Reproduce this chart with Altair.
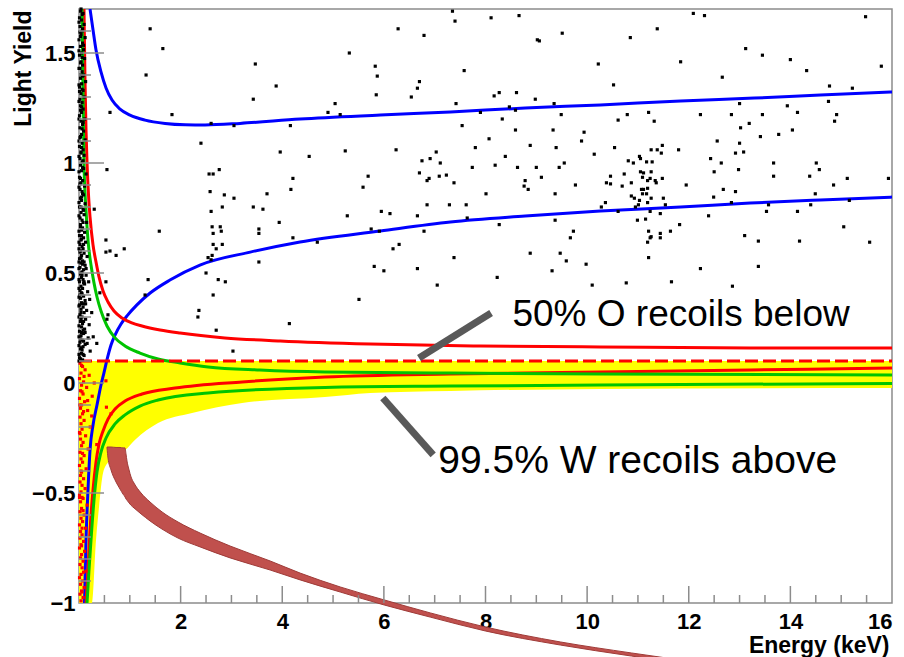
import altair as alt
import pandas as pd

F = "Liberation Sans"

# ---------------- axis tick values ----------------
x_tick_labels = [2, 4, 6, 8, 10, 12, 14, 16]
y_tick_labels = [-1, -0.5, 0, 0.5, 1, 1.5]
x_major_ticks = [2, 4, 6, 8, 10, 12, 14]
x_minor_ticks = [v / 2 for v in range(1, 32) if v % 4 != 0]
y_major_ticks = [-0.5, 0, 0.5, 1, 1.5]
y_minor_ticks = [round(-1 + 0.1 * i, 2) for i in range(1, 27) if i % 5 != 0]

# ---------------- curves ----------------
blue_up_x = [0.217, 0.276, 0.335, 0.433, 0.532, 0.650, 0.807, 1.004, 1.30, 1.694, 2.09, 2.48, 3.17, 4.35, 5.93, 7.31, 8.78, 10.26, 11.84, 13.29, 14.59, 16.0]
blue_up_y = [1.70, 1.605, 1.514, 1.414, 1.341, 1.286, 1.245, 1.218, 1.195, 1.18, 1.174, 1.173, 1.18, 1.20, 1.218, 1.232, 1.25, 1.264, 1.282, 1.295, 1.309, 1.323]

blue_lo_x = [0.108, 0.138, 0.177, 0.217, 0.276, 0.354, 0.433, 0.49, 0.55, 0.63, 0.709, 0.827, 0.945, 1.14, 1.40, 1.79, 2.38, 3.37, 4.35, 5.93, 7.31, 8.78, 10.26, 11.84, 13.21, 14.59, 16.0]
blue_lo_y = [-1.0, -0.714, -0.486, -0.305, -0.191, -0.10, -0.009, 0.045, 0.105, 0.173, 0.218, 0.268, 0.305, 0.355, 0.409, 0.468, 0.536, 0.595, 0.641, 0.691, 0.732, 0.759, 0.782, 0.80, 0.818, 0.832, 0.845]

red_up_x = [0.098, 0.118, 0.138, 0.158, 0.187, 0.217, 0.276, 0.335, 0.394, 0.473, 0.571, 0.689, 0.847, 1.04, 1.24, 1.595, 1.99, 2.87, 3.96, 5.73, 7.90, 10.26, 13.21, 16.0]
red_up_y = [1.70, 1.377, 1.15, 1.0, 0.855, 0.755, 0.627, 0.55, 0.482, 0.418, 0.368, 0.327, 0.295, 0.273, 0.259, 0.241, 0.227, 0.205, 0.191, 0.177, 0.168, 0.164, 0.159, 0.159]

green_up_x = [0.059, 0.079, 0.098, 0.138, 0.177, 0.236, 0.295, 0.354, 0.433, 0.551, 0.709, 0.906, 1.20, 1.556, 1.99, 2.54, 3.56, 4.84, 7.31, 10.26, 16.0]
green_up_y = [1.70, 1.33, 1.0, 0.786, 0.65, 0.536, 0.455, 0.391, 0.327, 0.259, 0.205, 0.168, 0.136, 0.109, 0.091, 0.073, 0.059, 0.05, 0.045, 0.041, 0.036]

red_lo_x = [0.138, 0.177, 0.217, 0.276, 0.335, 0.394, 0.473, 0.571, 0.709, 0.906, 1.24, 1.89, 3.21, 4.84, 7.31, 10.26, 13.21, 16.0]
red_lo_y = [-1.0, -0.85, -0.668, -0.486, -0.359, -0.277, -0.218, -0.164, -0.118, -0.082, -0.05, -0.023, 0.005, 0.027, 0.041, 0.05, 0.059, 0.068]

green_lo_x = [0.158, 0.197, 0.236, 0.295, 0.354, 0.433, 0.532, 0.709, 0.906, 1.20, 1.556, 2.54, 4.84, 7.31, 10.26, 16.0]
green_lo_y = [-1.0, -0.85, -0.714, -0.532, -0.405, -0.314, -0.25, -0.186, -0.145, -0.105, -0.077, -0.045, -0.02, -0.014, -0.009, -0.002]

# dashed 50% line and yellow acceptance band
dash_x = [0.0, 16.0]
dash_y = [0.10, 0.10]
band_x = [0.0, 0.256, 0.335, 0.394, 0.473, 0.571, 0.709, 0.906, 1.10, 1.556, 2.225, 3.21, 4.84, 5.73, 7.31, 10.26, 16.0]
band_lo = [-1.0, -1.0, -0.714, -0.564, -0.409, -0.36, -0.33, -0.305, -0.259, -0.182, -0.136, -0.091, -0.064, -0.045, -0.036, -0.027, -0.023]
band_hi = 0.10

# curved arrow (outer / inner edge)
arrow_x = [0.551, 0.571, 0.630, 0.729, 0.807, 0.866, 0.906, 0.925, 0.945, 0.985, 1.024, 1.083, 1.221, 1.398, 1.634, 1.950, 2.383, 2.974, 3.762, 4.352, 5.140, 6.006, 6.912, 7.995, 9.472, 10.870, 11.835]
arrow_outer = [-0.291, -0.291, -0.291, -0.293, -0.293, -0.295, -0.295, -0.323, -0.355, -0.395, -0.427, -0.455, -0.50, -0.541, -0.586, -0.632, -0.682, -0.741, -0.809, -0.864, -0.927, -0.986, -1.045, -1.109, -1.177, -1.227, -1.259]
arrow_inner = [-0.295, -0.341, -0.395, -0.45, -0.482, -0.505, -0.518, -0.527, -0.533, -0.545, -0.556, -0.568, -0.595, -0.627, -0.664, -0.705, -0.745, -0.795, -0.85, -0.895, -0.95, -1.009, -1.064, -1.127, -1.191, -1.241, -1.273]

# annotation pointers and texts
ptr_x1 = [6.69, 5.98]
ptr_y1 = [0.114, -0.068]
ptr_x2 = [8.11, 6.97]
ptr_y2 = [0.318, -0.327]
note_text = ["50% O recoils below", "99.5% W recoils above"]
note_x = [8.53, 7.07]
note_y = [0.259, -0.409]
note_size = [37, 39]

# ---------------- events ----------------
column_black = [
    (0.03, 1.69), (0.08, 1.68), (0.01, 1.66), (0.05, 1.65), (0.10, 1.63), (0.02, 1.62), (0.06, 1.60), (0.04, 1.585),
    (0.12, 1.57), (0.00, 1.56), (0.07, 1.545), (0.03, 1.53), (0.09, 1.515), (0.05, 1.50), (0.01, 1.49), (0.11, 1.475),
    (0.04, 1.46), (0.07, 1.445), (0.02, 1.43), (0.06, 1.415), (0.09, 1.40), (0.03, 1.385), (0.13, 1.37), (0.05, 1.36),
    (0.01, 1.345), (0.08, 1.33), (0.04, 1.315), (0.10, 1.30), (0.02, 1.29), (0.06, 1.275), (0.03, 1.26), (0.08, 1.245),
    (0.05, 1.23), (0.01, 1.215), (0.11, 1.20), (0.04, 1.19), (0.07, 1.175), (0.02, 1.16), (0.09, 1.145), (0.05, 1.13),
    (0.03, 1.12), (0.12, 1.105), (0.06, 1.09), (0.01, 1.075), (0.08, 1.06), (0.04, 1.05), (0.10, 1.035), (0.02, 1.02),
    (0.06, 1.005), (0.03, 0.99), (0.09, 0.975), (0.05, 0.965), (0.14, 0.95), (0.01, 0.935), (0.07, 0.92), (0.04, 0.91),
    (0.11, 0.895), (0.02, 0.88), (0.06, 0.87), (0.09, 0.855), (0.03, 0.84), (0.05, 0.83), (0.12, 0.815), (0.01, 0.80),
    (0.08, 0.79), (0.04, 0.775), (0.10, 0.765), (0.02, 0.75), (0.06, 0.74), (0.15, 0.73), (0.03, 0.72), (0.07, 0.705),
    (0.05, 0.695), (0.11, 0.685), (0.01, 0.67), (0.09, 0.66), (0.04, 0.65), (0.13, 0.64), (0.02, 0.63), (0.06, 0.62),
    (0.08, 0.61), (0.03, 0.60), (0.10, 0.59), (0.05, 0.58), (0.16, 0.575), (0.01, 0.565), (0.07, 0.555), (0.04, 0.545),
    (0.12, 0.535), (0.02, 0.525), (0.09, 0.515), (0.06, 0.505), (0.03, 0.495), (0.14, 0.49), (0.05, 0.48), (0.08, 0.47),
    (0.01, 0.46), (0.11, 0.45), (0.04, 0.44), (0.07, 0.43), (0.02, 0.42), (0.17, 0.415), (0.06, 0.405), (0.09, 0.395),
    (0.03, 0.385), (0.12, 0.375), (0.05, 0.365), (0.01, 0.355), (0.08, 0.345), (0.04, 0.335), (0.15, 0.33), (0.10, 0.32),
    (0.02, 0.31), (0.06, 0.30), (0.13, 0.29), (0.03, 0.28), (0.07, 0.27), (0.20, 0.265), (0.05, 0.255), (0.11, 0.245),
    (0.01, 0.235), (0.09, 0.225), (0.04, 0.215), (0.18, 0.205), (0.06, 0.195), (0.02, 0.185), (0.12, 0.175), (0.08, 0.165),
    (0.03, 0.155), (0.22, 0.145), (0.05, 0.135), (0.10, 0.125), (0.01, 0.115), (0.07, 0.105),
    (0.06, 1.675), (0.02, 1.595), (0.09, 1.535), (0.03, 1.455), (0.07, 1.395), (0.01, 1.325), (0.05, 1.255), (0.08, 1.185),
    (0.02, 1.115), (0.04, 1.045), (0.07, 0.98), (0.02, 0.905), (0.05, 0.845), (0.09, 0.785), (0.03, 0.71), (0.05, 0.655),
    (0.02, 0.595), (0.07, 0.54), (0.04, 0.50), (0.09, 0.455), (0.02, 0.40), (0.06, 0.36), (0.04, 0.29), (0.08, 0.24),
    (0.03, 0.20), (0.06, 0.15), (0.03, 0.11), (0.25, 0.32), (0.19, 0.46), (0.28, 0.21),
    (0.04, 1.70), (0.00, 1.64), (0.07, 1.61), (0.03, 1.575), (0.00, 1.51), (0.06, 1.48), (0.00, 1.43), (0.04, 1.40),
    (0.00, 1.355), (0.06, 1.335), (0.00, 1.28), (0.03, 1.24), (0.00, 1.20), (0.06, 1.155), (0.00, 1.10), (0.05, 1.07),
    (0.00, 1.03), (0.08, 1.01), (0.00, 0.96), (0.03, 0.93), (0.00, 0.89), (0.07, 0.86), (0.00, 0.82), (0.04, 0.80),
    (0.00, 0.76), (0.08, 0.73), (0.00, 0.69), (0.05, 0.67), (0.00, 0.64), (0.09, 0.63), (0.00, 0.61), (0.04, 0.57),
    (0.00, 0.55), (0.10, 0.55), (0.00, 0.52), (0.06, 0.49), (0.00, 0.47), (0.10, 0.46), (0.00, 0.43), (0.05, 0.41),
    (0.00, 0.39), (0.10, 0.36), (0.00, 0.35), (0.04, 0.32), (0.00, 0.30), (0.09, 0.28), (0.00, 0.26), (0.05, 0.23),
    (0.00, 0.21), (0.09, 0.19), (0.00, 0.17), (0.05, 0.16), (0.00, 0.13), (0.08, 0.13), (0.00, 0.10), (0.13, 0.36),
    (0.14, 0.52), (0.12, 0.23), (0.16, 0.18), (0.21, 0.38),
]

scatter_black = [
    (1.40, 1.61), (1.65, 1.52), (1.32, 1.40), (0.61, 1.23), (1.83, 1.22), (2.40, 1.09), (3.47, 1.45), (3.43, 1.29),
    (3.88, 1.35), (2.60, 1.18), (3.05, 1.17), (3.96, 1.05), (4.16, 1.17), (0.55, 0.97), (2.56, 0.95), (2.64, 0.95),
    (2.76, 0.97), (2.58, 0.87), (2.86, 0.855), (3.05, 0.84), (2.60, 0.78), (2.82, 0.80), (3.43, 0.80), (3.62, 0.79),
    (3.70, 0.86), (4.17, 0.88), (4.21, 0.93), (0.30, 0.79), (0.53, 0.65), (0.53, 0.595), (0.61, 0.60), (0.73, 0.58),
    (0.89, 0.61), (1.58, 0.69), (2.62, 0.71), (2.78, 0.71), (2.64, 0.68), (2.80, 0.69), (2.64, 0.63), (2.70, 0.61),
    (2.82, 0.63), (2.54, 0.57), (2.62, 0.58), (2.60, 0.56), (3.94, 0.73), (3.54, 0.70), (3.54, 0.68), (3.54, 0.55),
    (4.21, 0.66), (2.50, 0.50), (2.74, 0.47), (2.88, 0.46), (1.36, 0.47), (1.30, 0.40), (2.64, 0.40), (2.36, 0.33),
    (2.34, 0.30), (2.70, 0.24), (3.03, 0.145), (4.14, 0.27), (0.53, 0.46), (0.57, 0.31), (0.55, 0.29), (0.35, 0.18),
    (5.51, 0.38),
    (7.35, 1.69), (7.40, 1.645), (8.11, 1.66), (8.66, 1.67), (6.28, 1.61), (6.79, 1.58), (9.02, 1.56), (9.06, 1.555),
    (9.51, 1.59), (5.32, 1.50), (5.83, 1.44), (5.87, 1.395), (7.58, 1.42), (6.70, 1.37), (6.66, 1.34), (5.85, 1.31),
    (6.54, 1.30), (8.17, 1.305), (8.27, 1.32), (8.61, 1.32), (8.98, 1.29), (9.35, 1.27), (5.04, 1.27), (4.90, 1.23),
    (5.14, 1.22), (7.42, 1.27), (8.47, 1.255), (8.59, 1.24), (9.49, 1.22), (7.90, 1.23), (8.33, 1.20), (7.54, 1.17),
    (8.59, 1.15), (9.33, 1.15), (9.94, 1.14), (9.89, 1.10), (8.07, 1.11), (7.80, 1.07), (8.88, 1.08), (9.39, 1.07),
    (10.14, 1.04), (4.53, 1.03), (5.24, 1.055), (6.24, 1.06), (7.03, 1.05), (6.91, 1.02), (6.75, 1.01), (7.11, 1.00),
    (8.39, 1.03), (8.19, 0.99), (7.74, 0.98), (8.63, 0.98), (9.00, 0.98), (9.55, 1.00), (9.45, 0.98), (6.70, 0.955),
    (7.09, 0.94), (7.23, 0.945), (6.89, 0.93), (6.85, 0.92), (7.38, 0.91), (5.69, 0.94), (5.59, 0.89), (8.78, 0.92),
    (8.76, 0.895), (8.84, 0.88), (9.10, 0.935), (9.77, 0.90), (9.37, 0.86), (8.01, 0.86), (6.85, 0.81), (7.29, 0.81),
    (7.62, 0.81), (5.28, 0.76), (5.95, 0.78), (6.12, 0.77), (6.66, 0.76), (7.64, 0.75), (9.37, 0.74), (8.27, 0.72),
    (5.75, 0.70), (5.91, 0.69), (6.79, 0.69), (9.73, 0.69), (9.67, 0.66), (4.69, 0.64), (6.30, 0.63), (6.18, 0.61),
    (10.61, 1.195), (10.79, 1.22), (11.21, 1.23), (11.32, 1.19), (12.23, 1.22), (12.84, 1.22), (13.45, 1.22), (13.00, 1.27),
    (14.14, 1.23), (13.94, 1.26), (14.75, 1.28), (14.91, 1.22), (14.87, 1.19), (10.54, 1.07), (13.02, 1.16), (13.19, 1.18),
    (13.41, 1.12), (13.77, 1.13), (14.04, 1.15), (12.56, 1.10), (13.00, 1.09), (12.92, 1.045), (13.08, 1.05), (11.80, 1.06),
    (11.26, 1.06), (11.38, 1.06), (11.46, 1.045), (11.48, 1.08), (11.03, 1.03), (11.05, 1.02), (10.81, 1.01), (10.91, 1.00),
    (11.17, 1.005), (11.28, 1.005), (12.43, 1.02), (12.64, 1.00), (12.98, 0.97), (13.67, 1.00), (14.51, 1.00), (14.57, 0.97),
    (13.67, 0.94), (14.38, 0.94), (15.12, 0.93), (15.93, 0.93), (14.85, 0.90), (14.49, 0.86), (12.50, 0.96), (12.68, 0.88),
    (12.92, 0.87), (12.49, 0.845), (11.95, 0.90), (11.48, 0.93), (10.73, 0.95), (10.46, 0.94), (10.38, 0.91), (10.46, 0.905),
    (10.69, 0.895), (10.87, 0.91), (11.05, 0.96), (11.11, 0.955), (11.09, 0.935), (11.26, 0.96), (11.19, 0.92), (11.24, 0.93),
    (11.34, 0.92), (11.36, 0.91), (11.07, 0.88), (11.11, 0.88), (11.19, 0.885), (11.09, 0.86), (11.17, 0.86), (10.87, 0.85),
    (10.93, 0.84), (11.03, 0.83), (11.26, 0.84), (11.19, 0.82), (11.50, 0.84), (11.54, 0.81), (10.95, 0.80), (11.01, 0.81),
    (10.28, 0.80), (10.36, 0.82), (10.61, 0.78), (11.24, 0.78), (11.44, 0.77), (12.39, 0.76), (12.84, 0.82), (13.53, 0.78),
    (13.57, 0.81), (14.14, 0.78), (14.40, 0.81), (15.16, 0.83), (10.99, 0.74), (11.15, 0.745), (11.82, 0.72), (11.21, 0.69),
    (11.24, 0.66), (11.19, 0.64), (11.26, 0.665), (11.44, 0.68), (11.44, 0.66), (11.64, 0.69), (13.10, 0.67), (13.37, 0.645),
    (14.18, 0.645), (15.05, 0.71), (15.56, 0.64), (9.47, 0.59), (9.59, 0.555), (9.98, 0.54), (11.21, 0.57), (13.37, 0.53),
    (11.66, 0.46), (12.86, 0.44),
    (10.22, 1.45), (10.85, 1.57), (11.38, 1.61), (12.09, 1.68), (12.31, 1.67), (13.12, 1.52), (13.45, 1.49), (14.0, 1.47),
    (14.32, 1.42), (14.77, 1.35), (15.22, 1.34), (15.48, 1.665), (15.79, 1.44), (10.52, 1.355), (11.84, 1.46), (12.66, 1.39),
    (6.66, 0.52), (7.38, 0.57), (8.23, 0.48), (8.88, 0.59), (9.31, 0.51), (10.10, 0.445), (10.77, 0.455), (12.23, 0.52),
    (7.05, 0.445), (6.0, 0.51), (5.81, 0.53), (0.41, 0.41),
]

column_red = [
    (0.02, 0.09), (0.07, 0.075), (0.12, 0.06), (0.04, 0.045), (0.20, 0.035), (0.01, 0.02), (0.09, 0.005), (0.05, -0.01),
    (0.15, -0.02), (0.03, -0.035), (0.08, -0.05), (0.26, -0.06), (0.01, -0.07), (0.11, -0.085), (0.05, -0.10), (0.03, -0.115),
    (0.17, -0.125), (0.07, -0.14), (0.02, -0.155), (0.10, -0.17), (0.04, -0.185), (0.22, -0.20), (0.06, -0.21), (0.01, -0.225),
    (0.13, -0.24), (0.03, -0.255), (0.08, -0.27), (0.05, -0.285), (0.18, -0.30), (0.02, -0.315), (0.10, -0.33), (0.04, -0.345),
    (0.07, -0.36), (0.01, -0.375), (0.14, -0.39), (0.05, -0.405), (0.03, -0.42), (0.09, -0.435), (0.02, -0.45), (0.06, -0.465),
    (0.12, -0.48), (0.04, -0.495), (0.01, -0.51), (0.08, -0.525), (0.03, -0.54), (0.16, -0.555), (0.05, -0.57), (0.02, -0.585),
    (0.10, -0.60), (0.04, -0.615), (0.07, -0.63), (0.01, -0.645), (0.13, -0.66), (0.03, -0.675), (0.06, -0.69), (0.02, -0.705),
    (0.09, -0.72), (0.04, -0.735), (0.01, -0.75), (0.11, -0.765), (0.05, -0.78), (0.03, -0.795), (0.08, -0.81), (0.02, -0.825),
    (0.06, -0.84), (0.14, -0.855), (0.04, -0.87), (0.01, -0.885), (0.07, -0.90), (0.03, -0.915), (0.10, -0.93), (0.05, -0.945),
    (0.02, -0.96), (0.08, -0.975), (0.04, -0.99),
    (0.05, 0.08), (0.10, 0.03), (0.06, -0.04), (0.09, -0.13), (0.02, -0.23), (0.07, -0.32), (0.04, -0.40), (0.06, -0.52),
    (0.08, -0.58), (0.06, -0.66), (0.05, -0.74), (0.09, -0.86), (0.06, -0.95), (0.01, -0.52), (0.02, -0.10),
    (0.53, 0.01), (0.54, -0.11), (0.63, -0.14), (0.35, -0.28), (0.17, -0.08), (0.30, 0.0), (0.25, -0.15),
]

# ---------------- tables ----------------
def curve_df(name, xs_, ys_):
    return pd.DataFrame({"x": xs_, "y": ys_, "curve": name})

curves = pd.concat([
    curve_df("blue_up", blue_up_x, blue_up_y),
    curve_df("blue_lo", blue_lo_x, blue_lo_y),
    curve_df("red_up", red_up_x, red_up_y),
    curve_df("red_lo", red_lo_x, red_lo_y),
    curve_df("green_up", green_up_x, green_up_y),
    curve_df("green_lo", green_lo_x, green_lo_y),
])
curve_names = ["blue_up", "blue_lo", "red_up", "red_lo", "green_up", "green_lo"]
curve_colors = ["#0000ff", "#0000ff", "#ff0000", "#ff0000", "#00c400", "#00c400"]

band = pd.DataFrame({"x": band_x, "lo": band_lo, "hi": band_hi})
dash = pd.DataFrame({"x": dash_x, "y": dash_y})
arrow = pd.DataFrame({"x": arrow_x, "outer": arrow_outer, "inner": arrow_inner})
ptrs = pd.DataFrame({"x": ptr_x1, "y": ptr_y1, "x2": ptr_x2, "y2": ptr_y2})
notes = pd.DataFrame({"t": note_text, "x": note_x, "y": note_y, "s": note_size})
blk = pd.DataFrame(column_black + scatter_black, columns=["x", "y"])
red = pd.DataFrame(column_red, columns=["x", "y"])

W, H = 813, 594
xs = alt.Scale(domain=[0, 16], nice=False, zero=False)
ys = alt.Scale(domain=[-1, 1.7], nice=False, zero=False)

x_axis = alt.Axis(values=x_tick_labels, format="d", title="Energy (keV)", grid=False, domain=False,
                  ticks=False, tickSize=0, labelOverlap=False, labelFont=F, labelFontSize=22,
                  labelFontWeight="bold", labelColor="black", labelPadding=8,
                  titleFont=F, titleFontSize=23, titleFontWeight="bold", titleColor="black",
                  titleX=810, titleY=49, titleAlign="right", titleBaseline="alphabetic")
y_axis = alt.Axis(values=y_tick_labels, format="~g", title="Light Yield", grid=False, domain=False,
                  ticks=False, tickSize=0, labelOverlap=False, labelFont=F, labelFontSize=22,
                  labelFontWeight="bold", labelColor="black", labelPadding=4,
                  titleFont=F, titleFontSize=23, titleFontWeight="bold", titleColor="black",
                  titleX=-67, titleY=1, titleAlign="right", titleBaseline="top", titleAngle=270)

X = lambda f: alt.X(f, scale=xs, axis=x_axis)
Y = lambda f: alt.Y(f, scale=ys, axis=y_axis)

band_layer = alt.Chart(band).mark_area(color="#ffff00", opacity=1, interpolate="monotone").encode(
    x=X("x:Q"), y=Y("lo:Q"), y2="hi:Q",
)

curve_layer = alt.Chart(curves).mark_line(strokeWidth=3, interpolate="monotone", clip=True).encode(
    x=X("x:Q"), y=Y("y:Q"),
    color=alt.Color("curve:N", scale=alt.Scale(domain=curve_names, range=curve_colors), legend=None),
)

dash_layer = alt.Chart(dash).mark_line(color="#ff0000", strokeWidth=3, strokeDash=[13, 5]).encode(
    x=X("x:Q"), y=Y("y:Q"),
)

red_layer = alt.Chart(red).mark_square(size=10, color="#ff0000", opacity=1, clip=False).encode(
    x=X("x:Q"), y=Y("y:Q"),
)

blk_layer = alt.Chart(blk).mark_square(size=10, color="#000000", opacity=1, clip=False).encode(
    x=X("x:Q"), y=Y("y:Q"),
)

ptr_layer = alt.Chart(ptrs).mark_rule(color="#595959", strokeWidth=7, strokeCap="butt").encode(
    x=X("x:Q"), y=Y("y:Q"), x2="x2:Q", y2="y2:Q",
)

arrow_layer = alt.Chart(arrow).mark_area(fill="#c0504d", stroke="#9e3b38", strokeWidth=1,
                                         opacity=1, clip=False, interpolate="monotone").encode(
    x=X("x:Q"), y=Y("outer:Q"), y2="inner:Q",
)

note_layer = alt.Chart(notes).mark_text(align="left", baseline="alphabetic", font=F,
                                        color="black").encode(
    x=X("x:Q"), y=Y("y:Q"), text="t:N",
    size=alt.Size("s:Q", scale=None, legend=None),
)

TICK = "#8c8c8c"

def xticks(vals, length):
    return alt.Chart(pd.DataFrame({"v": vals})).mark_rule(color=TICK, strokeWidth=1.5).encode(
        x=X("v:Q"), y=alt.value(H), y2=alt.value(H - length))

def yticks(vals, length):
    return alt.Chart(pd.DataFrame({"v": vals})).mark_rule(color=TICK, strokeWidth=1.5).encode(
        y=Y("v:Q"), x=alt.value(0), x2=alt.value(length))

chart = alt.layer(
    band_layer, curve_layer, dash_layer, red_layer, blk_layer,
    ptr_layer, arrow_layer, note_layer,
    xticks(x_major_ticks, 17), xticks(x_minor_ticks, 8),
    yticks(y_major_ticks, 25), yticks(y_minor_ticks, 12),
).properties(
    width=W, height=H,
    autosize=alt.AutoSizeParams(type="none"),
    padding={"left": 79, "top": 9, "right": 12, "bottom": 54},
    background="white",
).configure_view(stroke=TICK, strokeWidth=1.5)

chart.save("out.html", embed_options={"renderer": "svg", "actions": False})
